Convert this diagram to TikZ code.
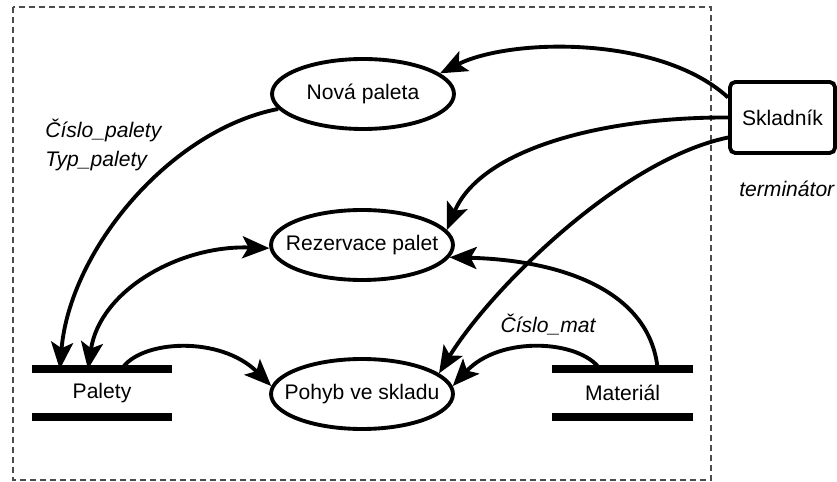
\documentclass[tikz,border=0pt]{standalone}
\usepackage{fontspec}
\setmainfont{Liberation Sans}
\usepackage{tikz}
\usetikzlibrary{arrows.meta,positioning,calc,shapes.geometric}
\tikzset{
  flowtip/.tip={Stealth[length=5.4mm,width=4.4mm,inset=1.2mm]},
  procbox/.style={ellipse,draw=black,line width=2.2pt,minimum width=3.64cm,
    minimum height=1.4cm,inner sep=0pt,font=\fontsize{12}{14}\selectfont},
  storebox/.style={minimum width=2.8cm,minimum height=0.94cm,inner sep=0pt,
    font=\fontsize{12}{14}\selectfont},
  storeline/.style={line width=4.2pt},
  termbox/.style={draw=black,line width=2.2pt,rounded corners=3pt,minimum width=2.1cm,
    minimum height=1.42cm,font=\fontsize{12}{14}\selectfont},
  flowarrow/.style={-flowtip,line width=2.2pt},
  flowboth/.style={flowtip-flowtip,line width=2.2pt},
  flowlabel/.style={font=\fontsize{12}{17}\selectfont\itshape,align=left,inner sep=0pt},
  boundary/.style={draw=black!70,line width=0.8pt,dash pattern=on 0.13cm off 0.07cm}
}

\begin{document}
\begin{tikzpicture}[x=0.02cm,y=-0.02cm]
  \useasboundingbox[fill=white] (0,0) rectangle (837,482);
  % hranice systemu
  \draw[boundary] (13,7) rectangle (711,480);

  % procesy
  \node[procbox] (nova) at (363,94) {\makebox[0pt]{Nová paleta}};
  \node[procbox] (rezervace) at (362,245) {\makebox[0pt]{Rezervace palet}};
  \node[procbox] (pohyb) at (362,394) {\makebox[0pt]{Pohyb ve skladu}};

  % datove sklady
  \node[storebox] (palety) at (102,393) {Palety};
  \node[storebox] (material) at (622.5,393) {Materiál};
  \foreach \s in {palety,material} {
    \draw[storeline] (\s.north west) -- (\s.north east);
    \draw[storeline] (\s.south west) -- (\s.south east);
  }

  % terminator
  \node[termbox] (skladnik) at (782.5,117.5) {Skladník};
  \node[flowlabel,anchor=west] (termlabel) at (739,189) {terminátor};

  % koncove body toku
  \coordinate (sk1) at ($(skladnik.west)+(0,-20)$);
  \coordinate (sk3) at ($(skladnik.west)+(0,20)$);
  \coordinate (pal1) at ($(palety.north west)!0.2!(palety.north east)$);
  \coordinate (pal2) at ($(palety.north west)!0.4!(palety.north east)$);
  \coordinate (pal3) at ($(palety.north west)!0.64!(palety.north east)$);
  \coordinate (mat1) at ($(material.north west)!0.34!(material.north east)$);
  \coordinate (mat2) at ($(material.north west)!0.75!(material.north east)$);

  % toky
  \draw[flowarrow] (sk1) .. controls (660,35) and (510,38) .. (nova.15);
  \draw[flowarrow] (skladnik.west) .. controls (600,117) and (480,150) .. (rezervace.10);
  \draw[flowarrow] (sk3) .. controls (620,160) and (490,290) .. (pohyb.15);
  \draw[flowarrow] (nova.190) .. controls (170,130) and (70,250) .. (pal1);
  \draw[flowboth] (pal2) .. controls (100,290) and (180,245) .. (rezervace.182);
  \draw[flowarrow] (pal3) .. controls (140,340) and (220,335) .. (pohyb.175);
  \draw[flowarrow] (mat2) .. controls (650,290) and (560,260) .. (rezervace.352);
  \draw[flowarrow] (mat1) .. controls (580,340) and (500,335) .. (pohyb.5);

  % popisy toku
  \node[flowlabel,anchor=west] (palinfo) at (45,145) {Číslo\_palety\\Typ\_palety};
  \node[flowlabel] (matinfo) at (548,325) {Číslo\_mat};
\end{tikzpicture}
\end{document}
